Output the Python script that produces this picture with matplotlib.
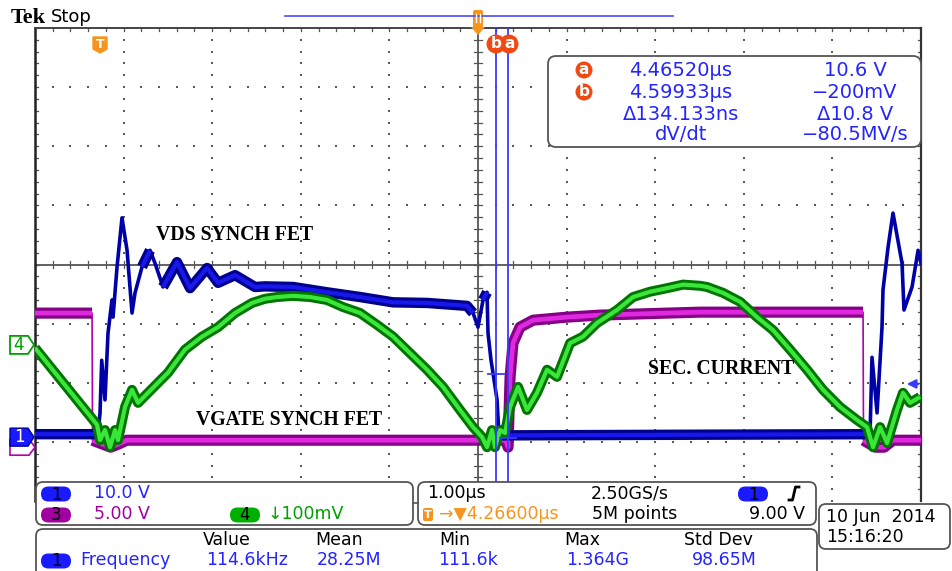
import numpy as np
import matplotlib
matplotlib.use("Agg")
import matplotlib.pyplot as plt
from matplotlib.patches import FancyBboxPatch, Circle, Polygon

# ---------------- scope settings ----------------
time_per_div = 1.0          # µs/div
h_delay = 4.266             # µs, screen centre relative to trigger
ch1_scale, ch1_offset = 10.0, -2.92    # V/div, ground position (div)
ch3_scale, ch3_offset = 5.0, -3.09     # V/div
ch4_scale, ch4_offset = 100.0, -1.36   # mV/div
cursor_a_t, cursor_b_t = 4.46520, 4.59933   # µs
cursor_a_v, cursor_b_v = 10.6, -0.2         # V (ch1)
trigger_level = 9.0                         # V (ch1)

# CH1 : VDS synch FET (V)
ch1_t = [-0.734, -0.023, 0.000, 0.019, 0.056, 0.090, 0.135, 0.147, 0.192, 0.248,
         0.305, 0.361, 0.395, 0.474, 0.564, 0.621, 0.711, 0.869, 1.016, 1.208,
         1.332, 1.524, 1.749, 1.862, 2.178, 2.562, 2.935, 3.307, 3.691, 4.142,
         4.210, 4.266, 4.323, 4.368, 4.379, 4.413, 4.436, 4.481, 4.503, 4.571,
         6.500, 8.691, 8.713, 8.770, 8.826, 8.837, 8.894, 8.950, 9.052, 9.074,
         9.165, 9.233, 9.266]
ch1_v = [0.5, 0.5, 4.1, 13.0, 6.3, 17.6, 23.2, 20.3, 28.8, 37.1,
         31.6, 21.0, 24.4, 28.8, 31.6, 29.4, 25.4, 29.6, 25.2, 28.6,
         26.1, 27.4, 25.4, 25.5, 25.4, 24.5, 23.7, 22.8, 22.7, 22.2,
         21.0, 18.6, 23.2, 24.5, 17.6, 13.0, 10.8, 6.3, 0.3, 0.3,
         0.4, 0.5, 13.5, 4.1, 18.6, 24.9, 32.1, 37.9, 29.4, 21.5,
         25.4, 31.6, 29.4]
# CH3 : VGATE synch FET (V)
ch3_t = [-0.734, -0.090, -0.085, 0.050, 0.120, 0.220, 0.300, 4.580, 4.605, 4.628,
         4.661, 4.740, 4.887, 5.271, 5.643, 6.400, 6.772, 8.612, 8.617, 8.750,
         8.850, 8.950, 9.266]
ch3_v = [11.34, 11.34, 0.59, 0.2, 0.0, 0.3, 0.59, 0.59, 0.0, 5.92,
         8.80, 10.15, 10.74, 11.0, 11.17, 11.34, 11.42, 11.42, 0.59, 0.0,
         0.0, 0.59, 0.59]
# CH4 : secondary current (mV)
ch4_t = [-0.734, -0.034, 0.000, 0.056, 0.113, 0.169, 0.203, 0.282, 0.361, 0.429,
         0.542, 0.767, 0.959, 1.151, 1.332, 1.524, 1.716, 1.862, 1.998, 2.178,
         2.370, 2.562, 2.743, 2.935, 3.126, 3.307, 3.499, 3.691, 3.871, 4.063,
         4.210, 4.312, 4.368, 4.424, 4.458, 4.515, 4.571, 4.628, 4.718, 4.819,
         4.932, 5.045, 5.158, 5.305, 5.451, 5.609, 5.835, 6.016, 6.208, 6.400,
         6.580, 6.772, 6.851, 7.032, 7.223, 7.415, 7.596, 7.788, 7.980, 8.160,
         8.352, 8.544, 8.657, 8.725, 8.804, 8.883, 8.995, 9.063, 9.142, 9.255]
ch4_v = [-5, -135, -161, -144, -173, -144, -161, -105, -76, -98,
         -81, -47, -8, 14, 30, 54, 71, 78, 81, 83,
         81, 76, 64, 54, 34, 14, -14, -42, -71, -110,
         -139, -156, -173, -144, -173, -144, -149, -105, -71, -110,
         -81, -42, -54, 3, 14, 37, 59, 81, 90, 96,
         102, 100, 98, 88, 73, 47, 25, -8, -42, -76,
         -105, -127, -139, -173, -139, -166, -110, -81, -98, -88]

labels = {"ch1": "VDS SYNCH FET", "ch3": "VGATE SYNCH FET", "ch4": "SEC. CURRENT"}

# ---------------- figure ----------------
W, H = 952, 571
PL, PR, PT, PB = 35, 921, 28, 501
fig = plt.figure(figsize=(W / 100, H / 100), dpi=100)
fig.patch.set_facecolor("white")
ax = fig.add_axes([PL / W, 1 - PB / H, (PR - PL) / W, (PB - PT) / H])
x0, x1 = h_delay - 5 * time_per_div, h_delay + 5 * time_per_div
ax.set_xlim(x0, x1)
ax.set_ylim(-4, 4)
ax.set_axis_off()

ov = fig.add_axes([0, 0, 1, 1], zorder=10)
ov.set_xlim(0, W)
ov.set_ylim(H, 0)
ov.set_axis_off()
ov.patch.set_alpha(0)


def px_x(t):
    return PL + (t - x0) / (x1 - x0) * (PR - PL)


def px_y(d):
    return PT + (4 - d) / 8 * (PB - PT)


# ---------------- graticule ----------------
gcol = "#5a5a5a"
minor_x = x0 + np.arange(51) * 0.2 * time_per_div
minor_y = -4 + np.arange(41) * 0.2
for k in range(1, 10):
    if k == 5:
        continue
    xm = x0 + k * time_per_div
    ax.scatter(np.full_like(minor_y, xm), minor_y, s=1.8, marker="s", c=gcol, lw=0, zorder=1)
for k in range(-3, 4):
    if k == 0:
        continue
    ax.scatter(minor_x, np.full_like(minor_x, k), s=1.8, marker="s", c=gcol, lw=0, zorder=1)
# centre cross
ax.axhline(0, color="#555555", lw=1.3, zorder=1)
ax.axvline(h_delay, color="#555555", lw=1.3, zorder=1)
for xm in minor_x:
    ax.plot([xm, xm], [-0.06, 0.06], color="#555555", lw=0.9, zorder=1)
    ax.plot([xm, xm], [4, 3.95], color="#555555", lw=0.9, zorder=1)
for ym in minor_y:
    ax.plot([h_delay - 0.04, h_delay + 0.04], [ym, ym], color="#555555", lw=0.9, zorder=1)
    ax.plot([x0, x0 + 0.035], [ym, ym], color="#555555", lw=0.9, zorder=1)
    ax.plot([x1, x1 - 0.035], [ym, ym], color="#555555", lw=0.9, zorder=1)
# frame
ax.plot([x0, x0], [-4, 4], color="#222222", lw=1.8, zorder=2, clip_on=False)
ax.plot([x0, x1], [4, 4], color="#444444", lw=1.4, zorder=2, clip_on=False)
ax.plot([x1, x1], [-4, 4], color="#333333", lw=1.6, zorder=2, clip_on=False)


# ---------------- traces ----------------
def draw_trace(t, v, scale, offset, outer, inner, thin, steep, z, lw_out=7.5, lw_in=3.0, lw_thin=2.0):
    t = np.asarray(t, float)
    d = np.asarray(v, float) / scale + offset
    ax.plot(t, d, color=thin, lw=lw_thin, zorder=z, solid_joinstyle="round")
    slope = np.abs(np.diff(d) / np.maximum(np.diff(t), 1e-9))
    tt, dd = [], []
    for i in range(len(t) - 1):
        if slope[i] < steep:
            if not tt or tt[-1] != t[i]:
                tt.append(t[i]); dd.append(d[i])
            tt.append(t[i + 1]); dd.append(d[i + 1])
        else:
            tt.append(np.nan); dd.append(np.nan)
    ax.plot(tt, dd, color=outer, lw=lw_out, zorder=z, solid_joinstyle="round", solid_capstyle="butt")
    ax.plot(tt, dd, color=inner, lw=lw_in, zorder=z + 0.1, solid_joinstyle="round", solid_capstyle="butt")


draw_trace(ch3_t, ch3_v, ch3_scale, ch3_offset, "#850085", "#e028e0", "#b000b0", 200, 3,
           lw_out=8, lw_in=3.4, lw_thin=1.2)
draw_trace(ch1_t, ch1_v, ch1_scale, ch1_offset, "#00008a", "#1818ee", "#0000a8", 3.5, 4,
           lw_out=7.5, lw_in=3.0, lw_thin=2.6)
draw_trace(ch4_t, ch4_v, ch4_scale, ch4_offset, "#007400", "#3ae63a", "#00a000", 1e9, 5,
           lw_out=7.2, lw_in=3.0)

# cursors
for ct in (cursor_a_t, cursor_b_t):
    ax.axvline(ct, color="#3a3aff", lw=1.3, zorder=7)
for ct, cv in ((cursor_a_t, cursor_a_v), (cursor_b_t, cursor_b_v)):
    yd = cv / ch1_scale + ch1_offset
    ax.plot([ct - 0.09, ct + 0.09], [yd, yd], color="#3a3aff", lw=1.3, zorder=7)

# waveform labels
serif = "Liberation Serif"
ov.text(235, 235, labels["ch1"], family=serif, weight="bold", fontsize=14.2, ha="center", va="center")
ov.text(289, 420, labels["ch3"], family=serif, weight="bold", fontsize=14.2, ha="center", va="center")
ov.text(721, 369, labels["ch4"], family=serif, weight="bold", fontsize=14.2, ha="center", va="center")

# ---------------- header ----------------
ov.text(11, 18, "Tek", family=serif, weight="bold", fontsize=16, ha="left", va="center")
ov.text(51, 17, "Stop", fontsize=13, ha="left", va="center")
ov.plot([285, 673], [16, 16], color="#4a4aff", lw=1.2)
orange = "#f7941d"
cx = px_x(h_delay)
ov.add_patch(FancyBboxPatch((cx - 5, 10), 10, 18, boxstyle="round,pad=0,rounding_size=2", fc=orange, ec="none"))
ov.add_patch(Polygon([(cx - 7, 27), (cx + 7, 27), (cx, 35)], closed=True, fc=orange, ec="none"))
ov.plot([cx - 2, cx - 2], [14, 22], color="white", lw=1)
ov.plot([cx + 2, cx + 2], [14, 22], color="white", lw=1)
# trigger-time marker
tx = px_x(0.0)
ov.add_patch(Polygon([(tx - 7, 37), (tx + 7, 37), (tx + 7, 49), (tx, 53), (tx - 7, 49)], closed=True,
                     fc=orange, ec=orange, lw=1, joinstyle="round"))
ov.text(tx, 44, "T", color="white", weight="bold", fontsize=9, ha="center", va="center")

# cursor badges
red = "#f04a12"
ov.add_patch(Circle((509, 44), 9.5, fc=red, ec="none"))
ov.text(510, 44, "a", color="white", weight="bold", fontsize=11, ha="center", va="center")
ov.add_patch(Circle((496, 44), 9.5, fc=red, ec="none"))
ov.text(496, 44, "b", color="white", weight="bold", fontsize=11, ha="center", va="center")

# ---------------- channel markers ----------------
y4 = px_y(ch4_offset)
ov.add_patch(Polygon([(10, y4 - 9), (28, y4 - 9), (34, y4), (28, y4 + 9), (10, y4 + 9)], closed=True,
                     fc="white", ec="#00a000", lw=1.3))
ov.text(19, y4, "4", color="#00a000", fontsize=12, ha="center", va="center")
y3 = px_y(ch3_offset)
ov.add_patch(Polygon([(10, y3 - 8), (29, y3 - 8), (35, y3), (29, y3 + 8), (10, y3 + 8)], closed=True,
                     fc="white", ec="#b000b0", lw=1.2))
y1 = px_y(ch1_offset)
ov.add_patch(Polygon([(10, y1 - 9), (28, y1 - 9), (34, y1), (28, y1 + 9), (10, y1 + 9)], closed=True,
                     fc="#1a1aff", ec="#0000a0", lw=1))
ov.text(19, y1, "1", color="white", fontsize=12, ha="center", va="center")
# trigger level arrow
yt = px_y(trigger_level / ch1_scale + ch1_offset)
ov.annotate("", xy=(904, yt), xytext=(921, yt),
            arrowprops=dict(arrowstyle="-|>", color="#3a3aff", lw=1.6, mutation_scale=13))

# ---------------- cursor readout ----------------
blue_t = "#2424ff"
ov.add_patch(FancyBboxPatch((548, 56), 373, 91, boxstyle="round,pad=0,rounding_size=8",
                            fc="white", ec="#555555", lw=1.3))
rows = [70, 92, 114, 135]
ov.add_patch(Circle((584, rows[0]), 8.5, fc=red, ec="none"))
ov.text(584, rows[0], "a", color="white", weight="bold", fontsize=11, ha="center", va="center")
ov.add_patch(Circle((584, rows[1]), 8.5, fc=red, ec="none"))
ov.text(584, rows[1], "b", color="white", weight="bold", fontsize=11, ha="center", va="center")
left_col = ["4.46520µs", "4.59933µs", "Δ134.133ns", "dV/dt"]
right_col = ["10.6 V", "−200mV", "Δ10.8 V", "−80.5MV/s"]
for r, a, b in zip(rows, left_col, right_col):
    ov.text(681, r, a, color=blue_t, fontsize=14, ha="center", va="center")
    ov.text(855, r, b, color=blue_t, fontsize=14, ha="center", va="center")

# ---------------- bottom boxes ----------------
def box(x, y, w, h):
    ov.add_patch(FancyBboxPatch((x, y), w, h, boxstyle="round,pad=0,rounding_size=7",
                                fc="white", ec="#555555", lw=1.3))


def pill(cx, cy, txt, fc, w=30, h=15):
    ov.add_patch(FancyBboxPatch((cx - w / 2, cy - h / 2), w, h,
                                boxstyle=f"round,pad=0,rounding_size={h / 2}", fc=fc, ec="none"))
    ov.text(cx, cy + 0.5, txt, color="black", fontsize=12, ha="center", va="center")


fs = 12.5
box(36, 482, 377, 43)
pill(56, 494, "1", "#1a1aff")
ov.text(122, 493, "10.0 V", color=blue_t, fontsize=fs, ha="center", va="center")
pill(56, 515, "3", "#a000a0")
ov.text(122, 514, "5.00 V", color="#a000a0", fontsize=fs, ha="center", va="center")
pill(245, 515, "4", "#00b000")
ov.text(306, 514, "↓100mV", color="#00a000", fontsize=fs, ha="center", va="center")
ov.plot([413, 418], [503, 503], color="#555555", lw=1.2)

box(418, 482, 398, 43)
ov.text(456, 493, "1.00µs", color="black", fontsize=fs, ha="center", va="center")
ov.text(630, 493, "2.50GS/s", color="black", fontsize=fs, ha="center", va="center")
pill(753, 494, "1", "#1a1aff")
ov.plot([789, 792.5, 795.5, 799], [500, 500, 487, 487], color="black", lw=2)
ov.add_patch(FancyBboxPatch((423, 508), 10, 13, boxstyle="round,pad=0,rounding_size=2", fc=orange, ec="none"))
ov.text(428, 514.5, "T", color="white", weight="bold", fontsize=8, ha="center", va="center")
ov.text(499, 514, "→▼4.26600µs", color=orange, fontsize=fs, ha="center", va="center")
ov.text(635, 514, "5M points", color="black", fontsize=fs, ha="center", va="center")
ov.text(777, 514, "9.00 V", color="black", fontsize=fs, ha="center", va="center")

box(819, 504, 131, 45)
ov.text(826, 517, "10 Jun  2014", color="black", fontsize=fs, ha="left", va="center")
ov.text(826, 537, "15:16:20", color="black", fontsize=fs, ha="left", va="center")

box(36, 529, 781, 60)
for txt, x in (("Value", 227), ("Mean", 339), ("Min", 455), ("Max", 582), ("Std Dev", 718)):
    ov.text(x, 540, txt, color="black", fontsize=fs, ha="center", va="center")
pill(56, 561, "1", "#1a1aff")
for txt, x in (("Frequency", 125), ("114.6kHz", 247), ("28.25M", 349), ("111.6k", 468),
               ("1.364G", 598), ("98.65M", 724)):
    ov.text(x, 560, txt, color=blue_t, fontsize=fs, ha="center", va="center")

fig.savefig("out.png", dpi=100, facecolor="white")
